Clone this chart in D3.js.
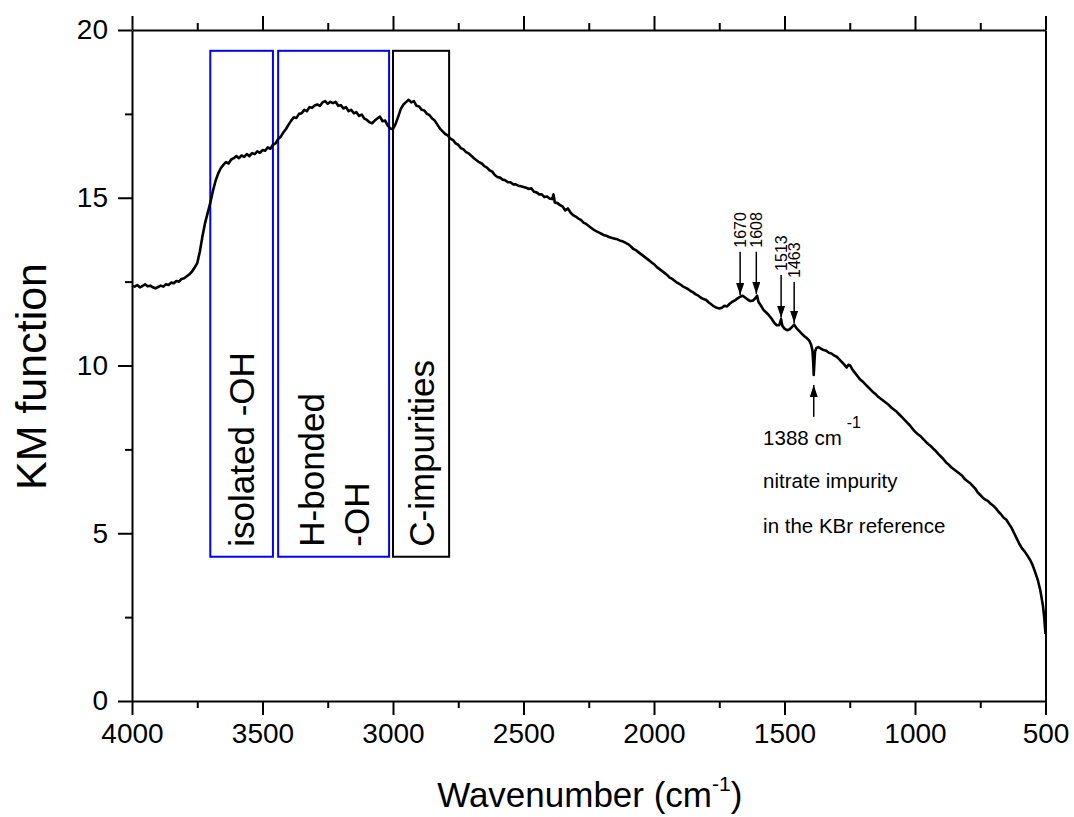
<!DOCTYPE html>
<html>
<head>
<meta charset="utf-8">
<script src="https://cdn.jsdelivr.net/npm/d3@7"></script>
<style>
  body { margin: 0; background: #fff; }
  text { font-family: "Liberation Sans", Arial, sans-serif; }
</style>
</head>
<body>
<div id="chart"></div>
<script>

// spectrum (wavenumber in cm-1, KM function)
const wavenumber = [
    4000, 3990, 3980, 3970, 3960, 3950, 3940, 3930, 3920, 3910,
    3900, 3890, 3880, 3870, 3860, 3850, 3840, 3830, 3820, 3810,
    3800, 3790, 3780, 3770, 3760, 3750, 3740, 3730, 3720, 3710,
    3700, 3690, 3680, 3670, 3660, 3650, 3640, 3630, 3620, 3610,
    3600, 3590, 3580, 3570, 3560, 3550, 3540, 3530, 3520, 3510,
    3500, 3490, 3480, 3470, 3460, 3450, 3440, 3430, 3420, 3410,
    3400, 3390, 3380, 3370, 3360, 3350, 3340, 3330, 3320, 3310,
    3300, 3290, 3280, 3270, 3260, 3250, 3240, 3230, 3220, 3210,
    3200, 3190, 3180, 3170, 3160, 3150, 3140, 3130, 3120, 3110,
    3100, 3090, 3080, 3070, 3060, 3050, 3040, 3030, 3020, 3010,
    3000, 2990, 2980, 2970, 2960, 2950, 2940, 2930, 2920, 2910,
    2900, 2890, 2880, 2870, 2860, 2850, 2840, 2830, 2820, 2810,
    2800, 2790, 2780, 2770, 2760, 2750, 2740, 2730, 2720, 2710,
    2700, 2690, 2680, 2670, 2660, 2650, 2640, 2630, 2620, 2610,
    2600, 2590, 2580, 2570, 2560, 2550, 2540, 2530, 2520, 2510,
    2500, 2490, 2480, 2470, 2460, 2450, 2440, 2430, 2420, 2410,
    2400, 2390, 2385, 2380, 2370, 2360, 2350, 2340, 2330, 2320,
    2310, 2300, 2290, 2280, 2270, 2260, 2250, 2240, 2230, 2220,
    2210, 2200, 2190, 2180, 2170, 2160, 2150, 2140, 2130, 2120,
    2110, 2100, 2090, 2080, 2070, 2060, 2050, 2040, 2030, 2020,
    2010, 2000, 1990, 1980, 1970, 1960, 1950, 1940, 1930, 1920,
    1910, 1900, 1890, 1880, 1870, 1860, 1850, 1840, 1830, 1820,
    1810, 1800, 1790, 1780, 1770, 1760, 1750, 1740, 1730, 1720,
    1710, 1700, 1690, 1680, 1670, 1660, 1650, 1640, 1630, 1620,
    1610, 1605, 1600, 1590, 1580, 1570, 1560, 1550, 1540, 1530,
    1520, 1513, 1508, 1500, 1490, 1480, 1470, 1463, 1455, 1445,
    1435, 1425, 1415, 1405, 1398, 1393, 1390, 1388, 1386, 1383,
    1378, 1370, 1360, 1350, 1340, 1330, 1320, 1310, 1300, 1290,
    1280, 1270, 1262, 1255, 1248, 1240, 1230, 1220, 1210, 1200,
    1190, 1180, 1170, 1160, 1150, 1140, 1130, 1120, 1110, 1100,
    1090, 1080, 1070, 1060, 1050, 1040, 1030, 1020, 1010, 1000,
    990, 980, 970, 960, 950, 940, 930, 920, 910, 900,
    890, 880, 870, 860, 850, 840, 830, 820, 810, 800,
    790, 780, 770, 760, 750, 740, 730, 720, 710, 700,
    690, 680, 670, 660, 650, 640, 630, 620, 610, 600,
    590, 580, 570, 560, 550, 540, 530, 520, 510, 505,
    500
];
const km = [
    12.38, 12.35, 12.40, 12.33, 12.37, 12.42, 12.36, 12.38, 12.33, 12.30,
    12.34, 12.38, 12.35, 12.42, 12.40, 12.47, 12.45, 12.52, 12.50, 12.58,
    12.60, 12.66, 12.72, 12.80, 12.92, 13.05, 13.40, 13.85, 14.25, 14.55,
    14.85, 15.20, 15.50, 15.72, 15.88, 15.98, 16.06, 16.02, 16.14, 16.18,
    16.24, 16.18, 16.26, 16.22, 16.30, 16.24, 16.33, 16.30, 16.38, 16.34,
    16.42, 16.40, 16.50, 16.46, 16.58, 16.62, 16.75, 16.82, 16.95, 17.05,
    17.18, 17.30, 17.40, 17.38, 17.50, 17.52, 17.62, 17.58, 17.70, 17.68,
    17.75, 17.78, 17.74, 17.84, 17.88, 17.80, 17.86, 17.82, 17.86, 17.74,
    17.76, 17.66, 17.70, 17.58, 17.62, 17.52, 17.55, 17.44, 17.48, 17.36,
    17.32, 17.25, 17.22, 17.30, 17.36, 17.42, 17.28, 17.30, 17.15, 17.06,
    17.05, 17.20, 17.42, 17.65, 17.78, 17.85, 17.92, 17.84, 17.88, 17.74,
    17.72, 17.62, 17.60, 17.50, 17.46, 17.36, 17.30, 17.18, 17.06, 16.98,
    16.90, 16.86, 16.76, 16.72, 16.62, 16.58, 16.48, 16.44, 16.36, 16.32,
    16.25, 16.18, 16.12, 16.06, 16.02, 15.94, 15.90, 15.82, 15.78, 15.68,
    15.62, 15.60, 15.54, 15.52, 15.46, 15.46, 15.40, 15.40, 15.36, 15.34,
    15.32, 15.30, 15.26, 15.28, 15.18, 15.16, 15.10, 15.10, 15.02, 15.04,
    14.98, 14.96, 15.10, 14.86, 14.84, 14.78, 14.74, 14.62, 14.68, 14.56,
    14.48, 14.44, 14.38, 14.34, 14.26, 14.22, 14.16, 14.10, 14.04, 14.00,
    13.96, 13.92, 13.88, 13.86, 13.82, 13.80, 13.78, 13.76, 13.72, 13.70,
    13.66, 13.62, 13.56, 13.48, 13.44, 13.38, 13.32, 13.26, 13.20, 13.14,
    13.08, 13.02, 12.94, 12.88, 12.82, 12.76, 12.70, 12.62, 12.58, 12.52,
    12.46, 12.42, 12.36, 12.32, 12.28, 12.22, 12.18, 12.12, 12.08, 12.02,
    11.98, 11.95, 11.88, 11.82, 11.76, 11.72, 11.70, 11.72, 11.78, 11.76,
    11.84, 11.90, 11.94, 12.00, 12.05, 12.08, 12.02, 11.96, 11.92, 11.94,
    12.02, 12.08, 11.90, 11.78, 11.65, 11.58, 11.50, 11.40, 11.28, 11.20,
    11.20, 11.38, 11.18, 11.10, 11.05, 11.08, 11.16, 11.22, 11.12, 11.04,
    10.96, 10.88, 10.82, 10.74, 10.62, 10.45, 10.10, 9.72, 10.00, 10.42,
    10.52, 10.55, 10.50, 10.46, 10.44, 10.38, 10.36, 10.30, 10.26, 10.18,
    10.10, 10.02, 9.94, 10.02, 10.00, 9.88, 9.78, 9.68, 9.58, 9.52,
    9.44, 9.36, 9.28, 9.20, 9.14, 9.06, 9.00, 8.94, 8.88, 8.82,
    8.74, 8.68, 8.62, 8.54, 8.46, 8.38, 8.30, 8.22, 8.12, 8.03,
    7.96, 7.90, 7.82, 7.74, 7.66, 7.60, 7.52, 7.45, 7.36, 7.28,
    7.20, 7.10, 7.04, 6.96, 6.90, 6.84, 6.78, 6.72, 6.62, 6.56,
    6.50, 6.42, 6.34, 6.22, 6.14, 6.06, 6.00, 5.96, 5.88, 5.82,
    5.74, 5.64, 5.56, 5.46, 5.40, 5.28, 5.16, 5.00, 4.84, 4.68,
    4.55, 4.46, 4.34, 4.22, 4.06, 3.85, 3.62, 3.30, 2.85, 2.50,
    2.00
];

const xTicks = [4000, 3500, 3000, 2500, 2000, 1500, 1000, 500];
const xMinor = [3750, 3250, 2750, 2250, 1750, 1250, 750];
const yTicks = [0, 5, 10, 15, 20];
const yMinor = [2.5, 7.5, 12.5, 17.5];

// marked regions (wavenumber from / to, KM bottom / top)
const regionNames = [["isolated -OH"], ["H-bonded", "-OH"], ["C-impurities"]];
const regionFrom = [3700, 3440, 3000];
const regionTo = [3460, 3015, 2785];
const regionColor = ["#0000ff", "#0000ff", "#000000"];
const regionKM = [4.3, 19.38];

// small peaks marked with arrows
const peaks = [1670, 1608, 1513, 1463];
const peakTip = [12.1, 12.13, 11.42, 11.27];
const peakTail = [13.39, 13.39, 12.7, 12.49];

const nitrate = 1388;
const nitrateTip = 9.42;
const nitrateTail = 8.47;
const noteLines = ["nitrate impurity", "in the KBr reference"];
const noteKM = [7.63, 6.35, 5.01];

const W = 1074, H = 817;
const margin = { top: 30, right: 28.5, bottom: 116, left: 132 };
const width = W - margin.left - margin.right;
const height = H - margin.top - margin.bottom;

const svg = d3.select("#chart").append("svg")
    .attr("width", W)
    .attr("height", H);

svg.append("defs").append("marker")
    .attr("id", "head")
    .attr("viewBox", "0 -4 12 8")
    .attr("refX", 12)
    .attr("refY", 0)
    .attr("markerWidth", 12)
    .attr("markerHeight", 8)
    .attr("markerUnits", "userSpaceOnUse")
    .attr("orient", "auto")
    .append("path")
    .attr("d", "M0,-4L12,0L0,4Z")
    .attr("fill", "#000");

const g = svg.append("g")
    .attr("transform", `translate(${margin.left},${margin.top})`);

const x = d3.scaleLinear().domain([4000, 500]).range([0, width]);
const y = d3.scaleLinear().domain([0, 20]).range([height, 0]);

// axes
const styleAxis = sel => {
    sel.selectAll("path, line").attr("stroke", "#000").attr("stroke-width", 2);
    sel.selectAll("text").attr("font-size", 28).attr("fill", "#000")
        .attr("font-family", "'Liberation Sans', Arial, sans-serif");
};

g.append("g")
    .attr("transform", `translate(0,${height})`)
    .call(d3.axisBottom(x).tickValues(xTicks).tickSize(14).tickSizeOuter(0).tickPadding(8).tickFormat(d3.format("d")))
    .call(styleAxis);
g.append("g")
    .attr("transform", `translate(0,${height})`)
    .call(d3.axisBottom(x).tickValues(xMinor).tickSize(7).tickFormat(""))
    .call(sel => sel.select(".domain").remove())
    .call(styleAxis);

g.append("g")
    .call(d3.axisTop(x).tickValues(xTicks).tickSize(14).tickSizeOuter(0).tickFormat(""))
    .call(styleAxis);
g.append("g")
    .call(d3.axisTop(x).tickValues(xMinor).tickSize(7).tickFormat(""))
    .call(sel => sel.select(".domain").remove())
    .call(styleAxis);

g.append("g")
    .call(d3.axisLeft(y).tickValues(yTicks).tickSize(14).tickSizeOuter(0).tickPadding(10))
    .call(styleAxis);
g.append("g")
    .call(d3.axisLeft(y).tickValues(yMinor).tickSize(7).tickFormat(""))
    .call(sel => sel.select(".domain").remove())
    .call(styleAxis);

g.append("g")
    .attr("transform", `translate(${width},0)`)
    .call(d3.axisRight(y).tickValues([]).tickSizeOuter(0))
    .call(styleAxis);

// axis titles
g.append("text")
    .attr("transform", `translate(${-86},${height / 2 + 11}) rotate(-90)`)
    .attr("text-anchor", "middle")
    .attr("font-size", 43)
    .text("KM function");

const xt = g.append("text")
    .attr("x", width / 2 + 1)
    .attr("y", height + 106)
    .attr("text-anchor", "middle")
    .attr("font-size", 35);
xt.append("tspan").text("Wavenumber (cm");
xt.append("tspan").attr("font-size", 21).attr("dy", -16).text("-1");
xt.append("tspan").attr("dy", 16).text(")");

// regions
regionNames.forEach((lines, i) => {
    const x0 = x(regionFrom[i]), x1 = x(regionTo[i]);
    const y0 = y(regionKM[1]), y1 = y(regionKM[0]);
    g.append("rect")
        .attr("x", x0).attr("y", y0)
        .attr("width", x1 - x0).attr("height", y1 - y0)
        .attr("fill", "none")
        .attr("stroke", regionColor[i])
        .attr("stroke-width", 2);
    const cx = (x0 + x1) / 2;
    lines.forEach((t, j) => {
        const off = (j - (lines.length - 1) / 2) * 45;
        g.append("text")
            .attr("transform", `translate(${cx + off},${y1 - 10}) rotate(-90)`)
            .attr("dy", "0.36em")
            .attr("font-size", 35)
            .text(t);
    });
});

// spectrum
const line = d3.line()
    .x((d, i) => x(wavenumber[i]))
    .y(d => y(d));

g.append("path")
    .datum(km)
    .attr("fill", "none")
    .attr("stroke", "#000")
    .attr("stroke-width", 2.6)
    .attr("stroke-linejoin", "round")
    .attr("d", line);

// peak arrows
peaks.forEach((p, i) => {
    g.append("line")
        .attr("x1", x(p)).attr("x2", x(p))
        .attr("y1", y(peakTail[i])).attr("y2", y(peakTip[i]))
        .attr("stroke", "#000")
        .attr("stroke-width", 1.5)
        .attr("marker-end", "url(#head)");
    g.append("text")
        .attr("transform", `translate(${x(p)},${y(peakTail[i]) - 4}) rotate(-90)`)
        .attr("dy", "0.36em")
        .attr("font-size", 16)
        .text(p);
});

g.append("line")
    .attr("x1", x(nitrate)).attr("x2", x(nitrate))
    .attr("y1", y(nitrateTail)).attr("y2", y(nitrateTip))
    .attr("stroke", "#000")
    .attr("stroke-width", 1.5)
    .attr("marker-end", "url(#head)");

const noteX = x(1582);
const n1 = g.append("text")
    .attr("x", noteX)
    .attr("y", y(noteKM[0]))
    .attr("font-size", 20.5);
n1.append("tspan").text(nitrate + " cm");
n1.append("tspan").attr("font-size", 16).attr("dx", 5).attr("dy", -17).text("-1");

noteLines.forEach((t, i) => {
    g.append("text")
        .attr("x", noteX)
        .attr("y", y(noteKM[i + 1]))
        .attr("font-size", 20.5)
        .text(t);
});

</script>
</body>
</html>
